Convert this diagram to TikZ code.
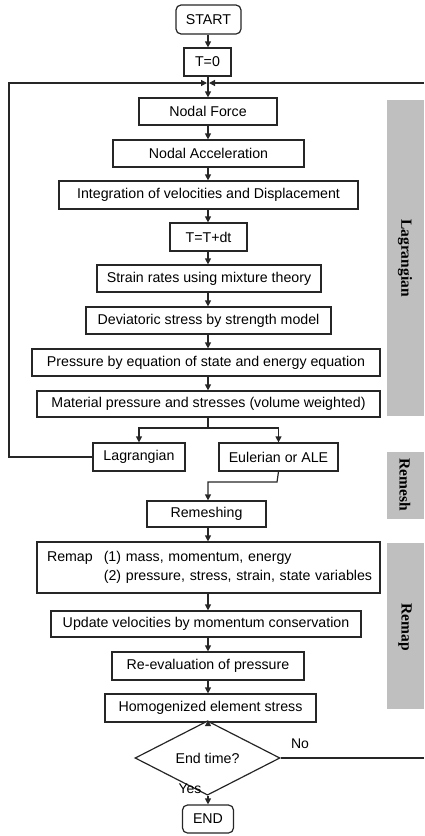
\documentclass[tikz,border=0pt]{standalone}
\usepackage{fontspec}
\setmainfont{Liberation Sans}
\newfontfamily\sidefont{Liberation Serif}
\usetikzlibrary{shapes.geometric,arrows.meta}
\begin{document}
\begin{tikzpicture}[x=1pt,y=-1pt,
  box/.style={draw=black!85, line width=1.2pt, minimum height=27pt, inner sep=0pt, fill=white,
    font=\fontsize{14.2}{19}\selectfont},
  term/.style={box, rounded corners=5pt},
  conn/.style={line width=1.2pt, draw=black!85},
  arr/.style={conn, -{Triangle[length=6pt,width=6pt]}},
  sidebar/.style={fill=black!25, draw=none},
  sidelabel/.style={rotate=-90, inner sep=0pt, font=\sidefont\bfseries\fontsize{15.5}{18}\selectfont},
  lbl/.style={inner sep=0pt, font=\fontsize{14}{16}\selectfont}
]
\useasboundingbox (0,0) rectangle (424,836);
% side bars
\fill[sidebar] (387,100) rectangle (424,416);
\fill[sidebar] (387,452) rectangle (424,519);
\fill[sidebar] (387,543) rectangle (424,709);
\node[sidelabel] (slag) at (405,258) {Lagrangian};
\node[sidelabel] (srem) at (405,485) {Remesh};
\node[sidelabel] (smap) at (405,627) {Remap};

\coordinate (mid) at (208,0);
% nodes
\node[term, minimum width=65pt, minimum height=29pt] (start) at (208.5,19.5) {START};
\node[box, minimum width=47pt, minimum height=28pt] (t0) at (207.5,62) {T=0};
\node[box, minimum width=138pt] (nf) at (208,111.5) {Nodal Force};
\node[box, minimum width=191pt] (na) at (208.5,153.5) {Nodal Acceleration};
\node[box, minimum width=299pt, minimum height=28pt] (int) at (208.5,195) {Integration of velocities and Displacement};
\node[box, minimum width=77pt, minimum height=28pt] (tdt) at (208.5,237) {T=T+dt};
\node[box, minimum width=224pt] (sr) at (209,278.5) {Strain rates using mixture theory};
\node[box, minimum width=245pt] (dev) at (208.5,320.5) {Deviatoric stress by strength model};
\node[box, minimum width=348pt] (pr) at (206,362.5) {Pressure by equation of state and energy equation};
\node[box, minimum width=343pt, minimum height=26pt] (mat) at (208.5,404) {Material pressure and stresses (volume weighted)};
\node[box, minimum width=92pt, minimum height=28pt] (lag) at (139,457) {Lagrangian};
\node[box, minimum width=119pt, minimum height=28pt] (eul) at (278.5,457) {Eulerian or ALE};
\node[box, minimum width=119pt, minimum height=26pt] (rem) at (206.5,514) {Remeshing};
\node[box, minimum height=51pt, text width=323pt, inner xsep=10pt, align=left] (remap) at (208.5,567.5)
  {\begin{tabular}{@{}l@{\hspace{11pt}}l@{}}Remap & (1) mass, momentum, energy\\ & (2) pressure, stress, strain, state variables\end{tabular}};
\node[box, minimum width=310pt, minimum height=26pt] (upd) at (206,624) {Update velocities by momentum conservation};
\node[box, minimum width=192pt, minimum height=28pt] (reev) at (208,666) {Re-evaluation of pressure};
\node[box, minimum width=211pt, minimum height=28pt] (hom) at (210.5,708) {Homogenized element stress};
\node[box, diamond, minimum width=145pt, minimum height=42pt] (endq) at (207.5,758) {End time?};
\node[term, minimum width=51pt, minimum height=28pt] (fin) at (208,819) {END};
\node[lbl] (no) at (300,744) {No};
\node[lbl] (yes) at (190,789) {Yes};

% connectors
\draw[arr] (start.south -| mid) -- (t0.north -| mid);
\draw[arr] (t0.south -| mid) -- (nf.north -| mid);
\draw[arr] (nf.south -| mid) -- (na.north -| mid);
\draw[arr] (na.south -| mid) -- (int.north -| mid);
\draw[arr] (int.south -| mid) -- (tdt.north -| mid);
\draw[arr] (tdt.south -| mid) -- (sr.north -| mid);
\draw[arr] (sr.south -| mid) -- (dev.north -| mid);
\draw[arr] (dev.south -| mid) -- (pr.north -| mid);
\draw[arr] (pr.south -| mid) -- (mat.north -| mid);
\coordinate (br) at (208,428);
\draw[conn] (mat.south -| mid) -- (br);
\draw[arr] (br) -| (lag.north);
\draw[arr] (br) -| (eul.north);
\coordinate (eb) at (277,482);
\draw[arr] (eul.south) -- (eb) -| (rem.north -| mid);
\draw[arr] (rem.south -| mid) -- (remap.north -| mid);
\draw[arr] (remap.south -| mid) -- (upd.north -| mid);
\draw[arr] (upd.south -| mid) -- (reev.north -| mid);
\draw[arr] (reev.south -| mid) -- (hom.north -| mid);
\draw[arr] (hom.south -| mid) -- (endq.north -| mid);
\draw[arr] (endq.south -| mid) -- (fin.north -| mid);
% loops
\coordinate (lw) at (9,457);
\coordinate (lt) at (9,83);
\coordinate (mgl) at (207,83);
\coordinate (mgr) at (209,83);
\coordinate (rt) at (424,83);
\coordinate (rb) at (424,758);
\draw[arr] (lag.west) -- (lw) -- (lt) -- (mgl);
\draw[arr] (rt) -- (mgr);
\draw[conn] (endq.east) -- (rb);
\end{tikzpicture}
\end{document}
